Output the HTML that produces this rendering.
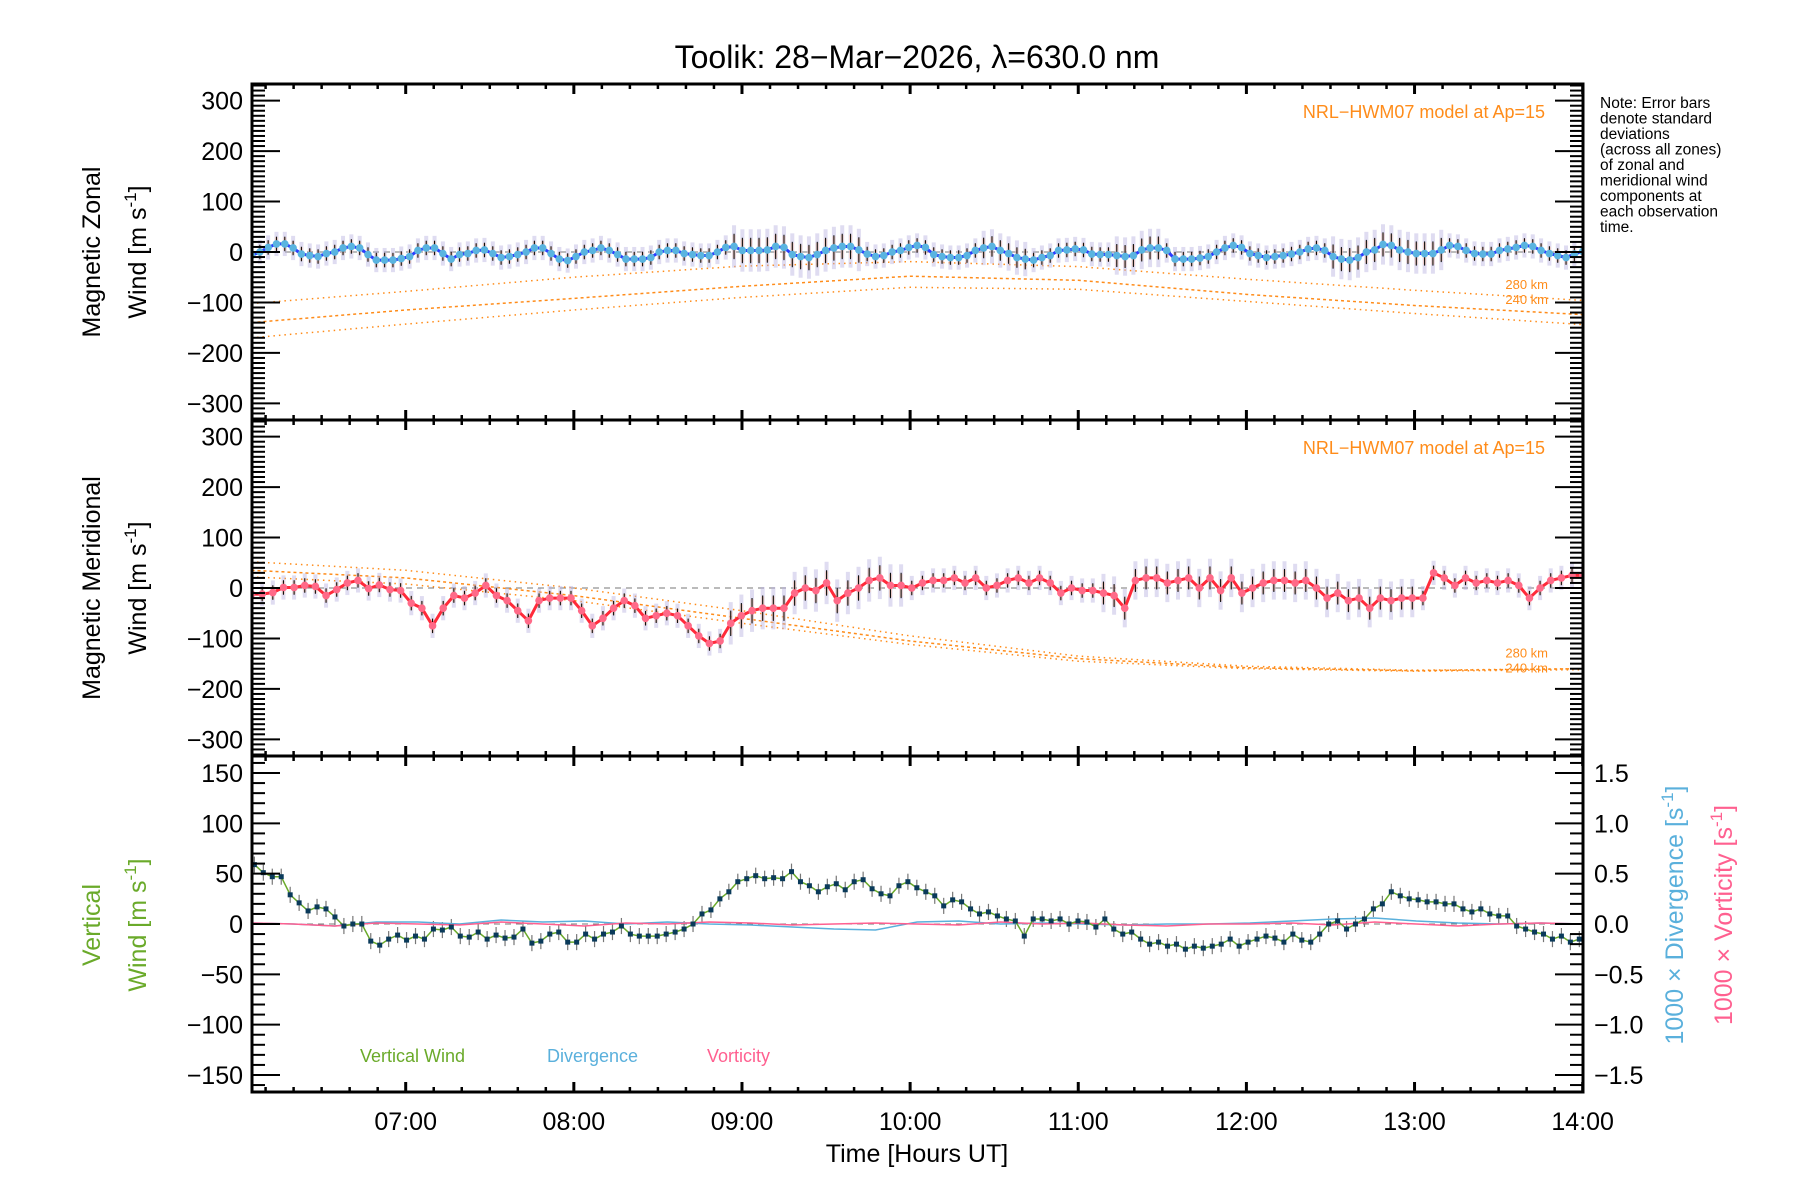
<!DOCTYPE html>
<html><head><meta charset="utf-8"><title>Toolik FPI winds</title>
<style>
html,body{margin:0;padding:0;background:#fff;}
svg{display:block;font-family:"Liberation Sans",sans-serif;}
</style></head>
<body>
<svg id="chart" width="1800" height="1200" viewBox="0 0 1800 1200" xmlns="http://www.w3.org/2000/svg">
<rect x="0" y="0" width="1800" height="1200" fill="#fff"/>
<text x="917" y="68" font-size="32" text-anchor="middle">Toolik: 28−Mar−2026, λ=630.0 nm</text>
<g font-size="15.5">
<text x="1600" y="108">Note: Error bars</text>
<text x="1600" y="123.5">denote standard</text>
<text x="1600" y="139">deviations</text>
<text x="1600" y="154.5">(across all zones)</text>
<text x="1600" y="170">of zonal and</text>
<text x="1600" y="185.5">meridional wind</text>
<text x="1600" y="201">components at</text>
<text x="1600" y="216.5">each observation</text>
<text x="1600" y="232">time.</text>
</g>
<g font-size="25" text-anchor="middle">
<text transform="translate(100,252) rotate(-90)">Magnetic  Zonal</text>
<text transform="translate(146,252) rotate(-90)">Wind [m  s<tspan dy="-10" font-size="17">-1</tspan><tspan dy="10">]</tspan></text>
<text transform="translate(100,588) rotate(-90)">Magnetic  Meridional</text>
<text transform="translate(146,588) rotate(-90)">Wind [m  s<tspan dy="-10" font-size="17">-1</tspan><tspan dy="10">]</tspan></text>
<text transform="translate(100,925) rotate(-90)" fill="#6aaa2a">Vertical</text>
<text transform="translate(146,925) rotate(-90)" fill="#6aaa2a">Wind [m  s<tspan dy="-10" font-size="17">-1</tspan><tspan dy="10">]</tspan></text>
<text transform="translate(1683,915) rotate(-90)" fill="#5ab0dc">1000 × Divergence [s<tspan dy="-10" font-size="17">-1</tspan><tspan dy="10">]</tspan></text>
<text transform="translate(1732,915) rotate(-90)" fill="#ff6090">1000 × Vorticity [s<tspan dy="-10" font-size="17">-1</tspan><tspan dy="10">]</tspan></text>
<text x="917" y="1162">Time [Hours UT]</text>
</g>
<g font-size="18">
<text x="1545" y="118" text-anchor="end" fill="#ff8c1a">NRL−HWM07 model at Ap=15</text>
<text x="1545" y="454" text-anchor="end" fill="#ff8c1a">NRL−HWM07 model at Ap=15</text>
<text x="360" y="1062" fill="#6aaa2a">Vertical Wind</text>
<text x="547" y="1062" fill="#5ab0dc">Divergence</text>
<text x="707" y="1062" fill="#ff6090">Vorticity</text>
</g>
<g id="layer"></g>
</svg>
<script>
// ---------- data ----------
const zonalValues = [-7,0,9,16,16,8,-4,-7,-9,-3,0,8,11,8,-5,-16,-16,-16,-13,-9,3,8,8,-3,-14,-5,-3,3,4,-3,-11,-9,-5,0,8,8,-3,-14,-17,-9,0,3,8,3,-5,-14,-14,-14,-11,0,3,3,-3,-5,-7,-7,0,9,11,3,3,3,4,11,9,-5,-9,-11,-5,3,8,11,11,4,-4,-9,-7,0,3,9,13,
9,-5,-9,-11,-11,-7,3,8,11,3,-3,-11,-14,-16,-11,-7,3,4,6,4,-4,-5,-5,-7,-9,-7,4,8,8,3,-14,-14,-14,-12,-9,0,8,13,9,-3,-7,-11,-9,-7,-4,0,6,8,3,-9,-14,-16,-11,0,4,15,13,4,0,-3,-3,-3,4,13,11,3,-3,-4,-4,3,6,9,13,11,3,-3,-7,-11,-4,1];
const meridionalValues = [-12,-12,-9,1,1,5,3,-15,-3,10,15,-1,6,-3,
-5,-30,-40,-75,-40,-15,-20,-10,5,-15,-25,-45,-65,-25,-20,-20,-20,-45,-75,-60,-40,-25,-35,-60,-55,-50,-55,-75,-95,-110,-105,-70,-55,-45,-40,-40,-40,-10,0,-5,10,-25,-10,0,15,20,5,5,0,10,15,15,20,10,20,0,5,15,20,10,20,10,-10,0,-5,-5,-10,-15,-40,15,20,20,10,15,20,0,20,-5,20,-10,0,10,15,15,10,15,0,-20,-10,-25,-20,-40,-20,-25,-20,-20,-20,30,20,5,20,10,15,10,15,5,-20,0,15,20,25,25];
const verticalValues = [59,51,47,47,29,21,13,17,15,7,-2,0,0,-17,-21,-15,-11,-16,-12,-15,-5,-6,-3,-12,-13,-8,-15,-11,-14,-13,-5,-19,-17,-10,-8,-18,-18,-10,
-15,-10,-8,-2,-10,-12,-12,-12,-10,-8,-5,0,10,14,25,32,42,45,48,45,46,45,52,42,38,32,37,40,34,42,44,35,30,28,38,42,36,32,28,18,24,22,15,10,12,8,5,3,-12,5,5,3,5,0,3,2,-3,5,-5,-10,-8,-15,-20,-18,-22,-20,-25,-22,-24,-22,-20,-15,-22,-18,-15,-12,-14,-18,-10,-16,-18,-10,0,3,-5,0,5,15,20,32,28,25,24,22,22,20,20,15,12,15,10,8,8,-2,-5,-8,-10,-15,-12,-18,-15];
const divergenceValues = [0.01,0.0,-0.02,0.02,0.02,0.0,0.04,0.02,0.03,0.0,0.02,0.0,-0.01,-0.03,-0.05,-0.06,0.02,0.03,0.0,0.01,0.0,-0.01,0.0,0.0,0.01,0.03,0.05,0.06,0.03,0.01,0.0,0.01,0.0];
const vorticityValues = [0.01,0.0,-0.02,0.01,0.0,-0.01,0.02,0.0,-0.02,0.01,0.0,0.02,0.01,-0.01,0.0,0.01,0.0,-0.01,0.02,0.0,0.01,-0.01,-0.02,0.0,0.0,0.01,-0.01,0.02,0.0,-0.02,0.0,0.01,0.0];
const modelHours = [6.083,7,8,9,10,11,12,13,14];
const zonalModelUpper = [-102,-78,-50,-28,-19,-29,-54,-76,-96];
const zonalModelMid = [-140,-115,-92,-68,-48,-56,-84,-106,-124];
const zonalModelLower = [-170,-143,-115,-90,-70,-74,-98,-122,-144];
const merModelA = [52,35,0,-45,-95,-135,-155,-163,-160];
const merModelB = [35,20,-15,-60,-105,-140,-158,-164,-160];
const merModelC = [22,8,-25,-70,-112,-145,-160,-165,-162];
const windTickLabels = [300,200,100,0,-100,-200,-300];
const vertTickLabels = [150,100,50,0,-50,-100,-150];
const rightTickLabels = [1.5,1.0,0.5,0.0,-0.5,-1.0,-1.5];
const hourLabels = ["07:00","08:00","09:00","10:00","11:00","12:00","13:00","14:00"];

// ---------- geometry ----------
const NS='http://www.w3.org/2000/svg';
const layer=document.getElementById('layer');
const X0=252, X1=1583, PH=336, tops=[84,420,756];
function xS(h){return 405.7+(h-7)*168.14;}
function yWind(p,v){return tops[p]+168-v*(336/666);}
function yVert(v){return 924-v*(336/333.8);}
function yRight(v){return 924-v*100*(336/333.8);}
function mk(tag,attrs,parent){const e=document.createElementNS(NS,tag);for(const k in attrs)e.setAttribute(k,attrs[k]);(parent||layer).appendChild(e);return e;}
function hoursFor(n,t0,t1){const a=[];for(let i=0;i<n;i++)a.push(t0+i*(t1-t0)/(n-1));return a;}
function fmt(v){return (v<0?'−':'')+Math.abs(v);}
function fmt1(v){return (v<0?'−':'')+Math.abs(v).toFixed(1);}

const clip=mk('clipPath',{id:'plotclip'});
mk('rect',{x:X0,y:tops[0],width:X1-X0,height:PH*3},clip);

// ---------- zero lines ----------
for(let p=0;p<2;p++){
  const z=mk('line',{x1:X0,x2:X1,y1:yWind(p,0),y2:yWind(p,0),stroke:'#777','stroke-width':1,'stroke-dasharray':'6,5'});
  
  
}
const z3=mk('line',{x1:X0,x2:X1,y1:yVert(0),y2:yVert(0),stroke:'#777','stroke-width':1,'stroke-dasharray':'6,5'});



// ---------- model curves ----------
function modelLine(p,vals,dash,name){
  const pts=modelHours.map((h,i)=>xS(h).toFixed(1)+','+yWind(p,vals[i]).toFixed(1)).join(' ');
  const l=mk('polyline',{points:pts,fill:'none',stroke:'#ff8c1a','stroke-width':1.5,'stroke-dasharray':dash,'clip-path':'url(#plotclip)'});
  
  
}
modelLine(0,zonalModelUpper,'1.5,4','zonal-model-upper');
modelLine(0,zonalModelMid,'3,3','zonal-model-mid');
modelLine(0,zonalModelLower,'1.5,4','zonal-model-lower');
modelLine(1,merModelA,'1.5,4','meridional-model-a');
modelLine(1,merModelB,'3,3','meridional-model-b');
modelLine(1,merModelC,'1.5,4','meridional-model-c');
const kmLabels=[[0,-63,'280 km'],[0,-93,'240 km'],[1,-128,'280 km'],[1,-158,'240 km']];
kmLabels.forEach(k=>{const t=mk('text',{x:1548,y:yWind(k[0],k[1])+5,'font-size':13,fill:'#ff8c1a','text-anchor':'end'});t.textContent=k[2];
  
  });

// ---------- horizontal wind series ----------
function spreadFor(h,big){for(const r of big){if(h>=r[0]&&h<=r[1])return r[2];}return 24;}
function windSeries(p,vals,lineCol,dotCol,big,name){
  const hs=hoursFor(vals.length,6.083,14.0);
  const g=mk('g',{'clip-path':'url(#plotclip)'});
  
  
  hs.forEach((h,i)=>{
    const x=xS(h), v=vals[i], s=spreadFor(h,big);
    const b=mk('rect',{x:x-2,y:yWind(p,v+s),width:4,height:yWind(p,v-s)-yWind(p,v+s),fill:'#b8b2e0',opacity:0.45},g);
    
    
    const c=mk('rect',{x:x-1.5,y:yWind(p,v+s*0.55),width:3,height:yWind(p,v-s*0.55)-yWind(p,v+s*0.55),fill:'#ffc0a0',opacity:0.5},g);
    
    
    const e=mk('line',{x1:x,x2:x,y1:yWind(p,v+s*0.6),y2:yWind(p,v-s*0.6),stroke:'#111','stroke-width':1.1},g);
    
    
  });
  const pts=hs.map((h,i)=>xS(h).toFixed(1)+','+yWind(p,vals[i]).toFixed(1)).join(' ');
  const l=mk('polyline',{points:pts,fill:'none',stroke:lineCol,'stroke-width':3},g);
  
  
  hs.forEach((h,i)=>{
    const d=mk('circle',{cx:xS(h),cy:yWind(p,vals[i]),r:3.8,fill:dotCol},g);
    
    
  });
}
windSeries(0,zonalValues,'#2b3bff','#5ab4e0',[[8.95,9.7,42],[10.4,10.7,34],[11.2,11.5,38],[12.5,13.2,40]],'zonal');
windSeries(1,meridionalValues,'#ff2a3a','#ff6a88',[[8.9,10.0,42],[11.1,13.0,38]],'meridional');

// ---------- vertical wind ----------
const vh=hoursFor(verticalValues.length,6.1,13.98);
const vg=mk('g',{'clip-path':'url(#plotclip)'});


vh.forEach((h,i)=>{
  const e=mk('line',{x1:xS(h),x2:xS(h),y1:yVert(verticalValues[i]+8),y2:yVert(verticalValues[i]-8),stroke:'#777','stroke-width':1.2},vg);
  
  
});
function smallLine(vals,t0,t1,col,w,name,yf){
  const hs=hoursFor(vals.length,t0,t1);
  const pts=hs.map((h,i)=>xS(h).toFixed(1)+','+yf(vals[i]).toFixed(1)).join(' ');
  const l=mk('polyline',{points:pts,fill:'none',stroke:col,'stroke-width':w},vg);
  
  
}
smallLine(divergenceValues,6.083,14.0,'#5ab0dc',1.5,'divergence-line',yRight);
smallLine(vorticityValues,6.083,14.0,'#ff6090',1.5,'vorticity-line',yRight);
smallLine(verticalValues,6.1,13.98,'#6aaa2a',1.5,'vertical-wind-line',yVert);
vh.forEach((h,i)=>{
  const s=mk('rect',{x:xS(h)-2.5,y:yVert(verticalValues[i])-2.5,width:5,height:5,fill:'#0a3a5a'},vg);
  
  
});

// ---------- axes ----------
const ax=mk('g',{stroke:'#000',fill:'none'});


for(let p=0;p<3;p++){
  const fr=mk('rect',{x:X0,y:tops[p],width:X1-X0,height:PH,'stroke-width':3},ax);
  
  
  for(let m=6*60+10;m<=14*60;m+=10){
    const x=xS(m/60), major=(m%60===0), L=major?10:5;
    mk('line',{x1:x,x2:x,y1:tops[p],y2:tops[p]+L,'stroke-width':major?3:2.5},ax);
    mk('line',{x1:x,x2:x,y1:tops[p]+PH,y2:tops[p]+PH-L,'stroke-width':major?3:2.5},ax);
  }
}
for(let p=0;p<2;p++){
  for(let v=-330;v<=330;v+=10){
    const y=yWind(p,v), major=(v%100===0), L=major?28:13;
    mk('line',{x1:X0,x2:X0+L,y1:y,y2:y,'stroke-width':2},ax);
    mk('line',{x1:X1,x2:X1-L,y1:y,y2:y,'stroke-width':2},ax);
  }
}
for(let v=-160;v<=160;v+=10){
  const y=yVert(v), L=(v%50===0)?28:13;
  mk('line',{x1:X0,x2:X0+L,y1:y,y2:y,'stroke-width':2},ax);
}
for(let k=-16;k<=16;k++){
  const y=yRight(k/10), L=(k%5===0)?28:13;
  mk('line',{x1:X1,x2:X1-L,y1:y,y2:y,'stroke-width':2},ax);
}
const tl=mk('g',{'font-size':25,fill:'#000'});


for(let p=0;p<2;p++){
  windTickLabels.forEach(v=>{const t=mk('text',{x:243,y:yWind(p,v)+9,'text-anchor':'end'},tl);t.textContent=fmt(v);
    
    });
}
vertTickLabels.forEach(v=>{const t=mk('text',{x:243,y:yVert(v)+9,'text-anchor':'end'},tl);t.textContent=fmt(v);
  
  });
rightTickLabels.forEach(v=>{const t=mk('text',{x:1594,y:yRight(v)+9},tl);t.textContent=fmt1(v);
  
  });
hourLabels.forEach((s,i)=>{const t=mk('text',{x:xS(7+i),y:1130,'text-anchor':'middle'},tl);t.textContent=s;
  
  });
</script>
</body></html>
